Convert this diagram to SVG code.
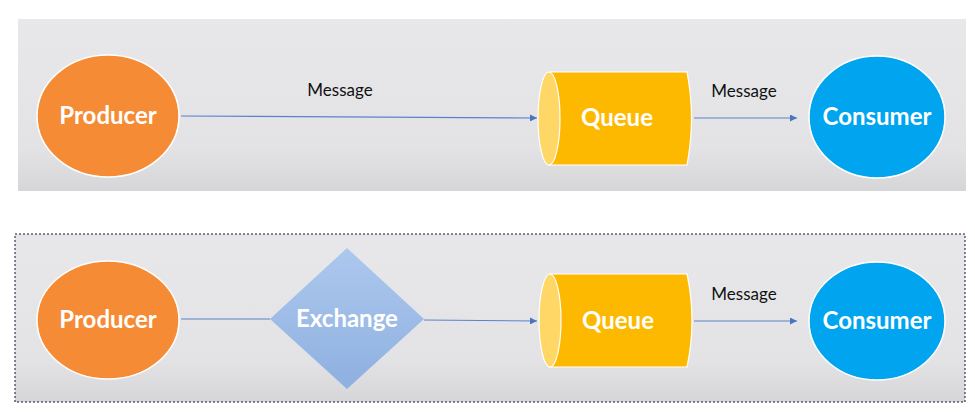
<svg xmlns="http://www.w3.org/2000/svg" width="975" height="420" viewBox="0 0 975 420">
<defs>
<linearGradient id="bg" x1="0" y1="0" x2="0" y2="1">
<stop offset="0" stop-color="#e8e8ea"/>
<stop offset="0.75" stop-color="#e3e3e5"/>
<stop offset="1" stop-color="#d6d6d8"/>
</linearGradient>
<linearGradient id="dia" x1="0" y1="0" x2="0" y2="1">
<stop offset="0" stop-color="#adc8ee"/>
<stop offset="1" stop-color="#8eb0e0"/>
</linearGradient>
<marker id="arr" viewBox="0 0 10 10" refX="10" refY="5" markerWidth="7" markerHeight="7" orient="auto" markerUnits="userSpaceOnUse">
<path d="M0,0 L10,5 L0,10 z" fill="#4a73c4"/>
</marker>
<style>
.node{font-family:Lato,"Open Sans",sans-serif;font-weight:bold;fill:#ffffff;font-size:24px;text-anchor:middle}
.lbl{font-family:Lato,"Liberation Sans",sans-serif;fill:#111111;font-size:17px;text-anchor:middle}
.prod{fill:#f68b35;stroke:#ffffff;stroke-width:1.5}
.cons{fill:#00a4ef;stroke:#ffffff;stroke-width:1.5}
.qbody{fill:#fdb900;stroke:#ffffff;stroke-width:1.2}
.qcap{fill:#ffd766;stroke:#ffffff;stroke-width:1.2}
.edge{stroke:#5a82cc;stroke-width:1.2;fill:none}
</style>
</defs>
<rect x="18" y="19" width="948" height="172" fill="url(#bg)"/>
<rect x="15" y="234" width="950" height="168" fill="url(#bg)" stroke="#10103a" stroke-width="1" stroke-dasharray="2,2"/>

<g id="connectors">
<line class="edge" x1="181" y1="116" x2="537" y2="118" marker-end="url(#arr)"/>
<line class="edge" x1="694" y1="118" x2="797" y2="118" marker-end="url(#arr)"/>
<line class="edge" x1="181" y1="319" x2="270" y2="319"/>
<line class="edge" x1="424" y1="320" x2="537" y2="321" marker-end="url(#arr)"/>
<line class="edge" x1="694" y1="321" x2="797" y2="321" marker-end="url(#arr)"/>
<text class="lbl" x="340" y="96">Message</text>
<text class="lbl" x="744" y="97">Message</text>
<text class="lbl" x="744" y="300">Message</text>
</g>

<g id="producer1">
<ellipse class="prod" cx="108" cy="116" rx="71" ry="61"/>
<text class="node" x="108" y="124">Producer</text>
</g>
<g id="queue1">
<path class="qbody" d="M549,72 L687,72 Q696,118 687,165 L549,165 Z"/>
<ellipse class="qcap" cx="549" cy="118.5" rx="11" ry="46.5"/>
<text class="node" x="617" y="126">Queue</text>
</g>
<g id="consumer1">
<ellipse class="cons" cx="877" cy="117" rx="68" ry="61"/>
<text class="node" x="877" y="125">Consumer</text>
</g>

<g id="producer2">
<ellipse class="prod" cx="108" cy="320" rx="71" ry="59"/>
<text class="node" x="108" y="328">Producer</text>
</g>
<g id="exchange">
<polygon points="347,248 424,319 347,389 270,319" fill="url(#dia)"/>
<text class="node" x="347" y="327">Exchange</text>
</g>
<g id="queue2">
<path class="qbody" d="M550,274 L687,274 Q697,320.5 687,367 L550,367 Z"/>
<ellipse class="qcap" cx="550" cy="320.5" rx="11" ry="46.5"/>
<text class="node" x="618" y="329">Queue</text>
</g>
<g id="consumer2">
<ellipse class="cons" cx="877" cy="321" rx="68" ry="59"/>
<text class="node" x="877" y="329">Consumer</text>
</g>
</svg>
